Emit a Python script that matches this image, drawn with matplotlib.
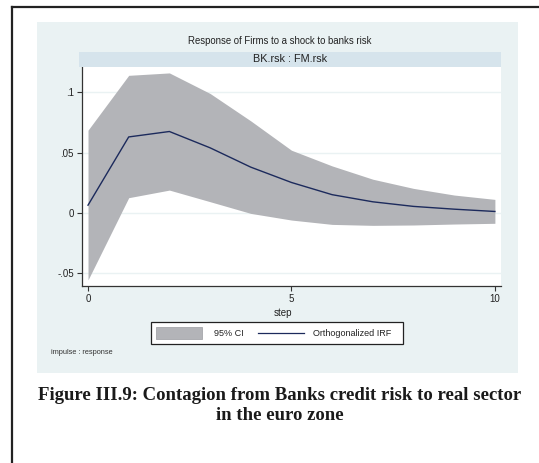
import matplotlib
matplotlib.use("Agg")
import matplotlib.pyplot as plt
from matplotlib.patches import Rectangle
from matplotlib.lines import Line2D

plt.rcParams['font.family'] = ['Liberation Sans', 'DejaVu Sans']

# ---- data ----
steps = [0, 1, 2, 3, 4, 5, 6, 7, 8, 9, 10]
irf = [0.0065, 0.063, 0.0675, 0.054, 0.038, 0.0253, 0.0152, 0.0093, 0.0055, 0.0032, 0.0013]
upper = [0.0686, 0.114, 0.116, 0.099, 0.0763, 0.052, 0.039, 0.028, 0.0204, 0.0149, 0.0113]
lower = [-0.0554, 0.0127, 0.019, 0.0094, -0.0003, -0.0058, -0.0094, -0.0102, -0.0099, -0.0091, -0.0085]
yticks = [-0.05, 0, 0.05, 0.1]
ytick_labels = ['-.05', '0', '.05', '.1']
xticks = [0, 5, 10]
xtick_labels = ['0', '5', '10']
title = "Response of Firms to a shock to banks risk"
strip_label = "BK.rsk : FM.rsk"
xlabel = "step"
legend_labels = ["95% CI", "Orthogonalized IRF"]
note = "impulse : response"
caption = ["Figure III.9: Contagion from Banks credit risk to real sector",
           "in the euro zone"]

W, H = 539, 463
fig = plt.figure(figsize=(W / 100, H / 100), dpi=100)
fig.patch.set_facecolor('white')

def fx(px):
    return px / W

def fy(py):
    return 1 - py / H

def rect(x0, y0, x1, y1, **kw):
    r = Rectangle((fx(x0), fy(y1)), fx(x1) - fx(x0), fy(y0) - fy(y1),
                  transform=fig.transFigure, **kw)
    fig.add_artist(r)
    return r

# outer border of page box
fig.add_artist(Line2D([fx(12.5), fx(12.5)], [fy(6.5), fy(463)], transform=fig.transFigure,
                      color='#222222', lw=1.6))
fig.add_artist(Line2D([fx(12.5), fx(539)], [fy(6.5), fy(6.5)], transform=fig.transFigure,
                      color='#222222', lw=1.6))

# Stata background panel
panel_col = '#eaf2f3'
rect(36.5, 22, 518, 372.5, facecolor=panel_col, edgecolor='none', zorder=0)

# strip
rect(79, 52, 501, 67, facecolor='#d6e4ec', edgecolor='none', zorder=1)
fig.text(fx(290), fy(59.5), strip_label, ha='center', va='center', fontsize=7.8, color='#222222')

# title
fig.text(fx(280), fy(41), title, ha='center', va='center', fontsize=6.9, color='#222222')

# axes
ax_l, ax_r, ax_t, ax_b = 81.5, 501, 67, 286
ax = fig.add_axes([fx(ax_l), fy(ax_b), fx(ax_r) - fx(ax_l), fy(ax_t) - fy(ax_b)])
ax.set_facecolor('white')
ax.fill_between(steps, lower, upper, color='#b3b4b8', lw=0, zorder=2)
ax.plot(steps, irf, color='#1c2a5c', lw=1.0, zorder=3)
ax.set_xlim(-0.16, 10.15)
ax.set_ylim(-0.0604, 0.1209)
ax.set_yticks(yticks)
ax.set_yticklabels(ytick_labels)
ax.set_xticks(xticks)
ax.set_xticklabels(xtick_labels)
for y in yticks:
    ax.axhline(y, color=panel_col, lw=1.0, zorder=1)
for s in ['top', 'right']:
    ax.spines[s].set_visible(False)
for s in ['left', 'bottom']:
    ax.spines[s].set_color('#333333')
    ax.spines[s].set_linewidth(0.9)
ax.tick_params(axis='both', direction='out', length=3.5, width=0.8, color='#333333',
               labelsize=7, labelcolor='#222222', pad=2)

# x-axis title
fig.text(fx(283), fy(313), xlabel, ha='center', va='center', fontsize=7, color='#222222')

# legend
rect(151, 322, 403, 344, facecolor='white', edgecolor='#222222', lw=0.9, zorder=3)
rect(156, 327, 202, 339, facecolor='#b3b4b8', edgecolor='#a5a6aa', lw=0.6, zorder=4)
fig.text(fx(214), fy(333.5), legend_labels[0], ha='left', va='center', fontsize=6.5, color='#222222')
fig.add_artist(Line2D([fx(258), fx(304)], [fy(333), fy(333)], transform=fig.transFigure,
                      color='#1c2a5c', lw=0.9, zorder=4))
fig.text(fx(313), fy(333.5), legend_labels[1], ha='left', va='center', fontsize=6.5, color='#222222')

# note
fig.text(fx(51), fy(353), note, ha='left', va='center', fontsize=5.3, color='#333333')

# caption
fig.text(fx(280), fy(395), caption[0], ha='center', va='center', fontsize=13.5,
         family=['Liberation Serif', 'DejaVu Serif'], fontweight='bold', color='#1a1a1a')
fig.text(fx(280), fy(415), caption[1], ha='center', va='center', fontsize=13.5,
         family=['Liberation Serif', 'DejaVu Serif'], fontweight='bold', color='#1a1a1a')

fig.savefig('out.png', dpi=100, facecolor='white')
